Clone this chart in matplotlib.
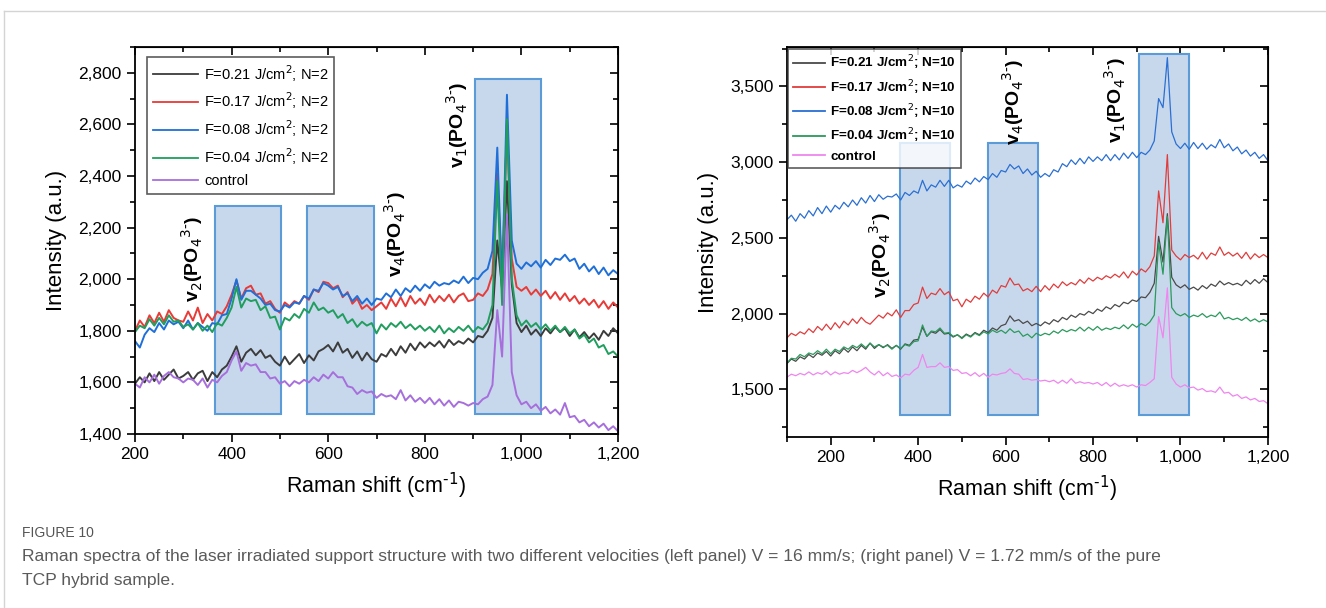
import numpy as np
import matplotlib
matplotlib.use("Agg")
import matplotlib.pyplot as plt
from matplotlib.ticker import MultipleLocator, FuncFormatter
from matplotlib.patches import Rectangle
from matplotlib.lines import Line2D

plt.rcParams['font.family'] = ['Liberation Sans', 'DejaVu Sans']

# ---- left panel data (V = 16 mm/s), Raman shift 200..1200 step 10 ----
x_left = np.arange(200, 1201, 10)
labels_left = ['F=0.21 J/cm$^2$; N=2', 'F=0.17 J/cm$^2$; N=2',
               'F=0.08 J/cm$^2$; N=2', 'F=0.04 J/cm$^2$; N=2', 'control']

black_l = [1595, 1620, 1600, 1635, 1605, 1640, 1610, 1630, 1650, 1615,
           1625, 1640, 1610, 1635, 1645, 1605, 1640, 1620, 1650, 1665,
           1700, 1740, 1680, 1715, 1730, 1705, 1725, 1695, 1705, 1680,
           1665, 1700, 1670, 1690, 1710, 1675, 1705, 1685, 1720, 1730,
           1745, 1720, 1755, 1715, 1730, 1695, 1720, 1685, 1715, 1690,
           1680, 1710, 1700, 1730, 1705, 1740, 1715, 1750, 1725, 1755,
           1735, 1755, 1740, 1760, 1735, 1765, 1745, 1760, 1750, 1770,
           1755, 1780, 1775, 1800, 1850, 2150, 1960, 2380, 1980, 1830,
           1795, 1820, 1785, 1805, 1780, 1810, 1790, 1815, 1795, 1810,
           1780, 1805, 1775, 1795, 1770, 1790, 1765, 1800, 1780, 1810,
           1790]
red_l = [1800, 1840, 1815, 1860, 1830, 1870, 1835, 1880, 1850, 1840,
         1835, 1875, 1840, 1890, 1830, 1865, 1840, 1875, 1865, 1895,
         1940, 1995, 1925, 1965, 1975, 1940, 1945, 1905, 1915, 1885,
         1870, 1910, 1895, 1915, 1905, 1935, 1920, 1960, 1950, 1990,
         1985, 1965, 1975, 1930, 1950, 1905, 1925, 1885, 1900, 1880,
         1895, 1910, 1885, 1925, 1895, 1930, 1895, 1935, 1905, 1925,
         1900, 1940, 1910, 1935, 1915, 1940, 1910, 1935, 1945, 1915,
         1920, 1945, 1935, 1960, 2020, 2410, 2000, 2600, 2080, 1970,
         1955, 1970, 1940, 1960, 1935, 1955, 1925, 1950, 1920, 1945,
         1915, 1935, 1905, 1925, 1900, 1920, 1890, 1915, 1885, 1910,
         1890]
blue_l = [1760, 1735, 1785, 1810, 1795, 1830, 1805, 1840, 1825, 1835,
          1810, 1840, 1805, 1830, 1815, 1800, 1830, 1825, 1860, 1865,
          1925, 2000, 1920, 1955, 1955, 1940, 1925, 1900, 1905, 1880,
          1875, 1900, 1890, 1910, 1905, 1935, 1925, 1960, 1955, 1985,
          1975, 1960, 1970, 1935, 1945, 1915, 1935, 1905, 1925, 1900,
          1925, 1920, 1945, 1930, 1960, 1935, 1965, 1950, 1975, 1955,
          1980, 1965, 1990, 1975, 1985, 1980, 1995, 1985, 2010, 1985,
          2005, 2000, 2025, 2040, 2110, 2510, 1980, 2715, 2150, 2060,
          2040, 2065, 2050, 2070, 2045, 2075, 2055, 2080, 2075, 2095,
          2070, 2080, 2040, 2060, 2030, 2050, 2020, 2045, 2015, 2035,
          2020]
green_l = [1795, 1820, 1810, 1845, 1820, 1850, 1825, 1860, 1835, 1840,
           1815, 1825, 1805, 1830, 1800, 1820, 1795, 1830, 1820, 1850,
           1890, 1970, 1890, 1925, 1915, 1920, 1880, 1895, 1850, 1855,
           1805, 1850, 1840, 1865, 1850, 1885, 1870, 1910, 1880, 1890,
           1870, 1880, 1850, 1865, 1830, 1845, 1815, 1835, 1820, 1830,
           1790, 1825, 1805, 1830, 1815, 1835, 1810, 1825, 1805, 1820,
           1800, 1815, 1795, 1820, 1790, 1810, 1795, 1815, 1800, 1820,
           1795, 1815, 1805, 1830, 1900, 2380, 1900, 2620, 2000, 1860,
           1820, 1840, 1815, 1830, 1805, 1825, 1800, 1820, 1795, 1815,
           1790, 1805, 1770, 1785, 1755, 1770, 1735, 1745, 1710, 1720,
           1700]
control_l = [1595, 1580, 1620, 1600, 1630, 1595, 1625, 1640, 1620, 1615,
             1600, 1615, 1610, 1590, 1615, 1580, 1610, 1600, 1625, 1640,
             1685, 1720, 1645, 1675, 1665, 1670, 1640, 1640, 1615, 1620,
             1595, 1605, 1585, 1605, 1595, 1610, 1600, 1620, 1605, 1630,
             1615, 1640, 1620, 1620, 1585, 1580, 1555, 1570, 1560, 1565,
             1540, 1555, 1545, 1550, 1535, 1570, 1530, 1550, 1525, 1540,
             1520, 1540, 1515, 1535, 1510, 1530, 1505, 1525, 1520, 1510,
             1520, 1515, 1535, 1545, 1590, 1880, 1700, 2250, 1640, 1550,
             1515, 1525, 1500, 1515, 1490, 1505, 1480, 1495, 1475, 1520,
             1465, 1470, 1445, 1455, 1430, 1445, 1425, 1440, 1415, 1430,
             1410]

# ---- right panel data (V = 1.72 mm/s), Raman shift 100..1200 step 10 ----
x_right = np.arange(100, 1201, 10)
labels_right = ['F=0.21 J/cm$^2$; N=10', 'F=0.17 J/cm$^2$; N=10',
                'F=0.08 J/cm$^2$; N=10', 'F=0.04 J/cm$^2$; N=10', 'control']

black_r = [1670, 1700, 1685, 1715, 1700, 1730, 1710, 1740, 1725, 1750,
           1720, 1755, 1735, 1770, 1745, 1780, 1755, 1790, 1765, 1805,
           1770, 1795, 1775, 1795, 1770, 1790, 1765, 1800, 1790, 1825,
           1830, 1910, 1850, 1880, 1870, 1895, 1865, 1870, 1845, 1860,
           1840, 1865, 1850, 1875, 1860, 1890, 1875, 1905, 1890, 1920,
           1930, 1985, 1950, 1960, 1935, 1950, 1920, 1935, 1920, 1945,
           1930, 1960, 1945, 1975, 1960, 1990, 1975, 2000, 1990, 2015,
           2000, 2030, 2015, 2045, 2030, 2060, 2045, 2075, 2065, 2090,
           2080, 2110, 2105, 2140, 2200, 2510, 2340, 2660, 2240, 2190,
           2170, 2190, 2160, 2175, 2155, 2185, 2165, 2195, 2180, 2215,
           2190, 2205, 2190, 2200, 2185, 2220, 2195, 2225, 2200, 2230,
           2205]
red_r = [1840, 1870, 1855, 1880, 1865, 1900, 1875, 1915, 1890, 1930,
         1895, 1940, 1905, 1950, 1925, 1965, 1935, 1975, 1945, 1930,
         1960, 1990, 1970, 2005, 1985, 2025, 1975, 2020, 2020, 2060,
         2070, 2175, 2100, 2135, 2125, 2165, 2125, 2145, 2085, 2095,
         2045, 2095, 2075, 2115, 2095, 2135, 2110, 2155, 2135, 2185,
         2175, 2235, 2190, 2195, 2150, 2165, 2145, 2180, 2145, 2185,
         2155, 2195, 2170, 2210, 2185, 2205, 2190, 2225, 2200, 2235,
         2215, 2240, 2225, 2250, 2235, 2260, 2240, 2275, 2235, 2280,
         2255, 2295, 2275, 2310, 2380, 2810, 2600, 3050, 2420, 2380,
         2355, 2390, 2370, 2385, 2360, 2405, 2360, 2400, 2385, 2440,
         2385, 2405, 2380, 2400, 2365, 2405, 2360, 2395, 2370, 2390,
         2370]
blue_r = [2620, 2650, 2610, 2660, 2630, 2680, 2645, 2700, 2660, 2710,
          2670, 2715, 2690, 2735, 2705, 2750, 2715, 2765, 2730, 2780,
          2740, 2785, 2755, 2775, 2770, 2790, 2750, 2800, 2780, 2810,
          2795, 2880, 2810, 2850, 2835, 2880, 2840, 2880, 2830, 2850,
          2835, 2875, 2855, 2895, 2870, 2905, 2885, 2925, 2900, 2945,
          2935, 2985, 2955, 2975, 2925, 2955, 2915, 2940, 2900, 2925,
          2905, 2950, 2935, 2990, 2970, 3015, 2985, 3025, 2990, 3035,
          3005, 3035, 3010, 3050, 3010, 3050, 3015, 3060, 3025, 3065,
          3030, 3065, 3050, 3080, 3140, 3420, 3360, 3690, 3200, 3120,
          3090, 3125, 3085, 3130, 3090, 3125, 3085, 3115, 3095, 3150,
          3095, 3120, 3075, 3100, 3055, 3080, 3040, 3065, 3025, 3050,
          3010]
green_r = [1675, 1705, 1700, 1730, 1715, 1740, 1730, 1755, 1735, 1765,
           1735, 1765, 1750, 1780, 1765, 1790, 1775, 1800, 1775, 1805,
           1780, 1795, 1780, 1790, 1765, 1790, 1770, 1795, 1785, 1815,
           1820, 1925, 1850, 1885, 1880, 1905, 1870, 1875, 1850, 1860,
           1835, 1860, 1845, 1870, 1855, 1880, 1865, 1890, 1875, 1890,
           1870, 1900, 1875, 1885, 1850, 1865, 1840, 1870, 1855, 1870,
           1860, 1885, 1870, 1895, 1880, 1895, 1885, 1910, 1885, 1910,
           1890, 1915, 1890, 1905, 1895, 1910, 1900, 1925, 1900, 1930,
           1910, 1935, 1920, 1945, 1990, 2470, 2260, 2640, 2040, 2000,
           1985, 2000, 1975, 1990, 1980, 2000, 1975, 1990, 1980, 2010,
           1965, 1975, 1960, 1970, 1955, 1975, 1950, 1965, 1945, 1960,
           1945]
control_r = [1580, 1600, 1590, 1605, 1595, 1615, 1595, 1610, 1600, 1620,
             1595, 1615, 1600, 1610, 1605, 1625, 1610, 1625, 1645, 1615,
             1595, 1620, 1590, 1610, 1585, 1595, 1575, 1600, 1595, 1625,
             1645, 1730, 1645, 1650, 1650, 1675, 1645, 1650, 1625, 1630,
             1605, 1610, 1590, 1610, 1585, 1605, 1580, 1600, 1595, 1605,
             1610, 1635, 1605, 1600, 1565, 1570, 1560, 1565, 1555, 1560,
             1550, 1560, 1540, 1560, 1540, 1570, 1540, 1550, 1540, 1545,
             1535, 1545, 1525, 1545, 1520, 1540, 1520, 1530, 1520, 1530,
             1515, 1530, 1525, 1545, 1570, 1980, 1840, 2170, 1580, 1535,
             1515, 1530, 1510, 1515, 1495, 1505, 1485, 1490, 1480, 1515,
             1475, 1480, 1455, 1465, 1440, 1450, 1430, 1440, 1420, 1425,
             1405]

# highlighted band regions (x0, x1, y0, y1)
bands_left = [(366, 503, 1477, 2284), (557, 694, 1477, 2284), (904, 1041, 1477, 2776)]
bands_right = [(358, 472, 1333, 3127), (559, 675, 1333, 3127), (905, 1019, 1333, 3715)]

colors_left = ['#3c3c3c', '#e83a36', '#1f6fd8', '#1f9e5e', '#a66fdc']
colors_right = ['#4a4a4a', '#e03c3c', '#2a6fd3', '#2a9a5c', '#ee86ee']

fig = plt.figure(figsize=(13.26, 6.08), dpi=100)
axL = fig.add_axes([0.1018, 0.2862, 0.3643, 0.6365])
axR = fig.add_axes([0.5935, 0.2812, 0.3627, 0.6414])

comma = FuncFormatter(lambda v, p: '{:,.0f}'.format(v))


def style(ax, xlim, ylim, xmaj, xmin, ymaj, ymin):
    ax.set_xlim(*xlim)
    ax.set_ylim(*ylim)
    ax.xaxis.set_major_locator(MultipleLocator(xmaj))
    ax.xaxis.set_minor_locator(MultipleLocator(xmin))
    ax.yaxis.set_major_locator(MultipleLocator(ymaj))
    ax.yaxis.set_minor_locator(MultipleLocator(ymin))
    ax.xaxis.set_major_formatter(comma)
    ax.yaxis.set_major_formatter(comma)
    for s in ax.spines.values():
        s.set_linewidth(1.3)
    ax.tick_params(which='major', direction='out', length=6, width=1.2, labelsize=12.5)
    ax.tick_params(which='minor', direction='out', length=3.5, width=1.2)
    # mirrored inward ticks on top and right
    top = ax.secondary_xaxis('top')
    top.xaxis.set_major_locator(MultipleLocator(xmaj))
    top.xaxis.set_minor_locator(MultipleLocator(xmin))
    top.tick_params(which='major', direction='in', length=6, width=1.2, labeltop=False)
    top.tick_params(which='minor', direction='in', length=3.5, width=1.2)
    rgt = ax.secondary_yaxis('right')
    rgt.yaxis.set_major_locator(MultipleLocator(ymaj))
    rgt.yaxis.set_minor_locator(MultipleLocator(ymin))
    rgt.tick_params(which='major', direction='in', length=6, width=1.2, labelright=False)
    rgt.tick_params(which='minor', direction='in', length=3.5, width=1.2)
    ax.set_xlabel('Raman shift (cm$^{\\text{-1}}$)', fontsize=15.5, labelpad=6)
    ax.set_ylabel('Intensity (a.u.)', fontsize=16, labelpad=8)


def draw(ax, x, series, colors, labels, bands, lw, legkw):
    for (x0, x1, y0, y1) in bands:
        ax.add_patch(Rectangle((x0, y0), x1 - x0, y1 - y0, facecolor='#c8d8ec',
                               edgecolor='#5b9bd8', lw=1.5, zorder=1))
    for y, c in zip(series, colors):
        ax.plot(x, y, color=c, lw=lw, zorder=2)
    handles = [Line2D([], [], color=c, lw=1.3) for c in colors]
    leg = ax.legend(handles, labels, loc='upper left', frameon=True, fancybox=False,
                    edgecolor='#333333', **legkw)
    leg.get_frame().set_linewidth(1.2)
    leg.set_zorder(5)
    return leg


style(axL, (200, 1200), (1400, 2900), 200, 100, 200, 100)
draw(axL, x_left, [black_l, red_l, blue_l, green_l, control_l], colors_left,
     labels_left, bands_left, 1.4,
     dict(prop={'size': 10.5}, handlelength=3.1, handletextpad=0.4,
          labelspacing=0.48, borderpad=0.4, borderaxespad=0,
          bbox_to_anchor=(0.025, 0.974)))

style(axR, (100, 1200), (1185, 3760), 200, 100, 500, 250)
draw(axR, x_right, [black_r, red_r, blue_r, green_r, control_r], colors_right,
     labels_right, bands_right, 0.9,
     dict(prop={'size': 9.7, 'weight': 'bold'}, handlelength=2.4, handletextpad=0.4,
          labelspacing=0.42, borderpad=0.35, borderaxespad=0,
          bbox_to_anchor=(0.002, 0.995)))

ann = dict(rotation=90, fontsize=14, fontweight='bold', ha='center', va='center')
axL.text(318, 2080, r'v$_2$(PO$_4$$^{3\text{-}}$)', **ann)
axL.text(738, 2175, r'v$_4$(PO$_4$$^{3\text{-}}$)', **ann)
axL.text(866, 2600, r'v$_1$(PO$_4$$^{3\text{-}}$)', **ann)
axR.text(314, 2390, r'v$_2$(PO$_4$$^{3\text{-}}$)', **ann)
axR.text(618, 3400, r'v$_4$(PO$_4$$^{3\text{-}}$)', **ann)
axR.text(850, 3410, r'v$_1$(PO$_4$$^{3\text{-}}$)', **ann)

# card border and caption
fig.add_artist(Line2D([4 / 1326, 1], [1 - 11 / 608, 1 - 11 / 608], color='#d4d4d4', lw=1))
fig.add_artist(Line2D([4 / 1326, 4 / 1326], [0, 1 - 11 / 608], color='#d4d4d4', lw=1))
cap = ['Liberation Sans Narrow', 'Liberation Sans', 'DejaVu Sans']
fig.text(22 / 1326, 1 - 533 / 608, 'FIGURE 10', fontsize=10, color='#555555',
         family=cap, va='center')
fig.text(22 / 1326, 1 - 556 / 608,
         'Raman spectra of the laser irradiated support structure with two different velocities '
         '(left panel) V = 16 mm/s; (right panel) V = 1.72 mm/s of the pure',
         fontsize=12.6, color='#5a5a5a', family=cap, va='center')
fig.text(22 / 1326, 1 - 580 / 608, 'TCP hybrid sample.', fontsize=12.6,
         color='#5a5a5a', family=cap, va='center')

fig.savefig('out.png', dpi=100)
